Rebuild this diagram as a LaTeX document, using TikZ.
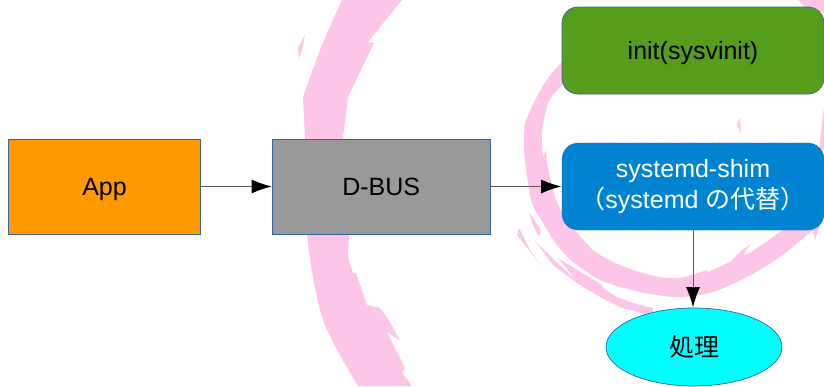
\documentclass[tikz,border=0pt]{standalone}
\usepackage{fontspec}
\setmainfont{Liberation Sans}
\newfontfamily\cjk{Noto Sans CJK JP}
\usetikzlibrary{arrows.meta,shapes.geometric}
\definecolor{swirlpink}{HTML}{FDC6E8}
\definecolor{edgeblue}{HTML}{3465A4}
\definecolor{apporange}{HTML}{FF9900}
\definecolor{initgreen}{HTML}{579D1C}
\definecolor{shimblue}{HTML}{0084D1}
\definecolor{workcyan}{HTML}{00FFFF}
\tikzset{
  swirl/.style={fill=swirlpink,draw=none},
  box/.style={draw=edgeblue,line width=.7pt,inner sep=0pt,align=center,
    font=\fontsize{25}{31}\selectfont},
  oneline/.style={text height=18pt,text depth=0pt},
  arrow/.style={draw=black!65,line width=.8pt,
    -{Latex[length=20pt,width=14pt,color=black]},shorten >=.5pt}
}
\begin{document}
\begin{tikzpicture}[x=1pt,y=-1pt]  % ------ pixels of the screenshot ------
    \useasboundingbox (0,0) rectangle (824,386);

    % big arc on the left
    \fill[swirl] plot[smooth] coordinates {(342,0) (322,45) (303,97)}
        -- (305,138) -- plot[smooth] coordinates {(305,138) (307,235) (323,320) (358,386)}
        -- (412,386) -- (402,373) -- (405,368) -- (387,332) -- (400,341)
        -- (390,322) -- (380,308) -- (367,305) -- (356,273) -- (353,273)
        -- (348,257) -- (349,235) -- (343,138) -- (348,97) -- (374,43)
        -- (368,42) -- (402,0) -- cycle;
    \fill[swirl] (305,35) -- (298,48) -- (299,60) -- (303,45) -- cycle;

    % inner ring
    \fill[swirl] (562,62) -- plot[smooth] coordinates {(562,62) (548,78) (535,100) (525,123)}
        -- plot[smooth] coordinates {(525,123) (524,150) (531,200) (543,223) (557,245) (573,262) (590,274) (600,280) (620,287) (650,294) (680,297) (713,292) (747,277) (780,257) (813,230)}
        -- (815,240) -- (820,225) -- (790,225) -- (780,232) -- (750,253) -- (743,255) -- (750,245)
        -- (742,250) -- (730,262) -- (708,272) -- (707,270)
        -- plot[smooth] coordinates {(707,270) (680,278) (660,277) (643,273) (620,265) (593,250) (567,220) (555,197) (547,163)}
        -- (546,150) -- (543,157)
        -- plot[smooth] coordinates {(543,157) (542,133) (548,103) (560,87)} -- (570,80) -- cycle;
    \fill[swirl] (798,0) -- (824,0) -- (824,13) -- (805,7) -- cycle;
    \fill[swirl] (824,107) -- (824,150) -- (819,150) -- cycle;
    \fill[swirl] (740,117) -- (737,125) -- (741,133) -- cycle;

    % loose strokes
    \fill[swirl] (529,212) -- (541,230) -- (539,237) -- (533,225) -- cycle;
    \fill[swirl] (519,228) -- (517,235) -- (542,267) -- (530,250) -- cycle;
    \fill[swirl] (535,241) -- (552,258) -- (576,280) -- (558,258) -- (602,285) -- (603,288)
        -- (617,297) -- (633,303) -- (653,308) -- (653,316) -- (637,312) -- (620,307)
        -- (600,297) -- (577,283) -- (553,265) -- cycle;

    \node[box,oneline,fill=apporange,minimum width=192pt,minimum height=95pt]
        (app) at (104.5,186.5) {App};
    \node[box,oneline,fill=black!40,minimum width=217.5pt,minimum height=95pt]
        (dbus) at (381.2,186.5) {D-BUS};
    \node[box,oneline,fill=initgreen,rounded corners=16pt,minimum width=262pt,minimum height=87pt]
        (init) at (693,50.5) {init(sysvinit)};
    \node[box,densely dotted,fill=shimblue,text=white,rounded corners=16pt,
        minimum width=262pt,minimum height=87pt]
        (shim) at (693,186.5) {systemd-shim\\{\cjk （}systemd {\cjk の代替）}};
    \node[box,ellipse,fill=workcyan,minimum width=176pt,minimum height=78pt]
        (work) at (694,347) {\cjk 処理};

    \draw[arrow] (app) -- (dbus);
    \draw[arrow] (dbus) -- (shim);
    \draw[arrow] (shim.south) -- (shim.south |- work.north);
\end{tikzpicture}
\end{document}
